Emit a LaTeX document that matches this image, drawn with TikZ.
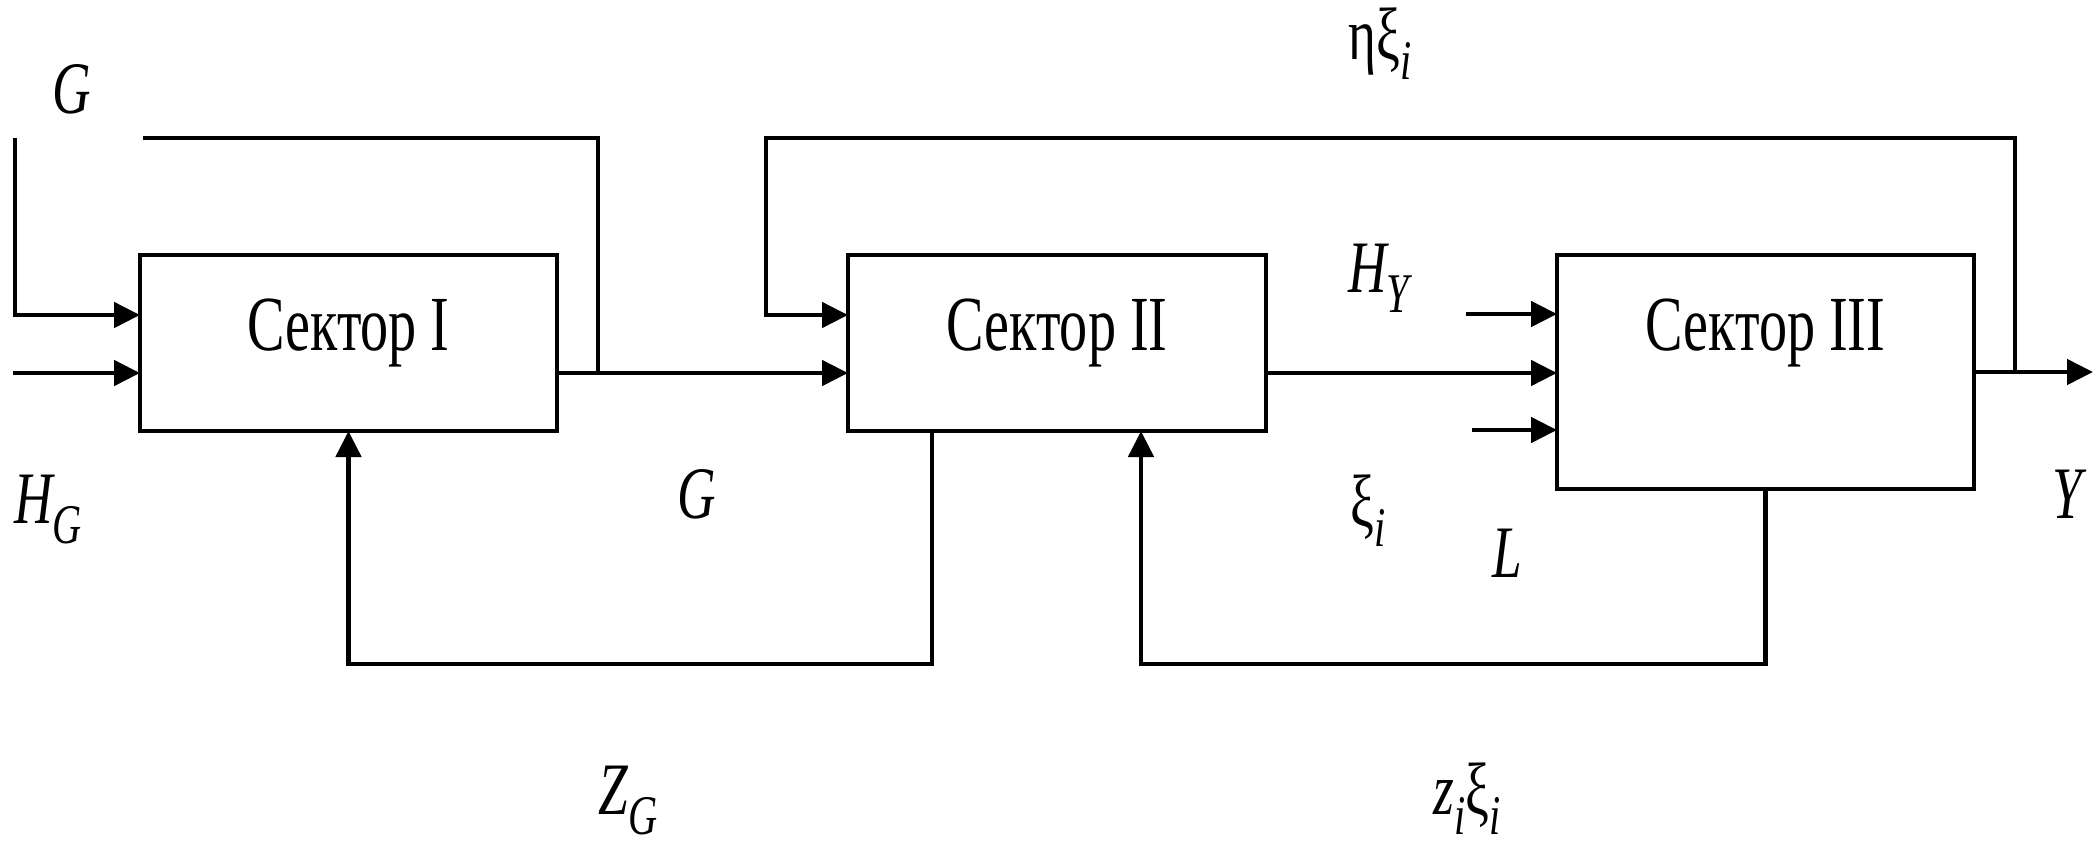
\documentclass[tikz,border=0pt]{standalone}
\usepackage{fontspec}
\usepackage{graphicx}
\setmainfont{Liberation Serif}
\usetikzlibrary{arrows.meta}

% narrow type used throughout the diagram
\newcommand\sq[1]{\scalebox{0.72}[1]{#1}}
% lowered italic subscript for the signal labels
\newcommand\sbs[1]{\raisebox{-10pt}{\fontsize{28}{30}\selectfont\itshape #1}}

\begin{document}
\begin{tikzpicture}[x=0.5pt,y=-0.5pt,
  sector/.style={draw, line width=2.4pt, inner sep=0pt, outer sep=0pt,
                 anchor=north west, minimum width=208.5pt},
  sectortext/.style={font=\fontsize{39}{44}\selectfont, inner sep=0pt, anchor=base},
  lbl/.style={font=\fontsize{37}{40}\selectfont\itshape, inner sep=0pt, anchor=base west},
  wire/.style={line width=2.4pt},
  flow/.style={wire, -{Triangle[length=13pt,width=12.5pt]}}]

\useasboundingbox (0,0) rectangle (2093,842);

% the three sector blocks
\node[sector, minimum height=88pt]  (s1) at (140,255) {};
\node[sector, minimum height=88pt, minimum width=209pt] (s2) at (848,255) {};
\node[sector, minimum height=117pt] (s3) at (1557,255) {};

\node[sectortext] (s1t) at ([yshift=-47.5pt]s1.north) {\sq{Сектор I}};
\node[sectortext] (s2t) at ([yshift=-47.5pt]s2.north) {\sq{Сектор II}};
\node[sectortext] (s3t) at ([yshift=-47.5pt]s3.north) {\sq{Сектор III}};

% free ends and corners of the connectors
\coordinate (gtop)  at (15,138);
\coordinate (hgin)  at (13,373);
\coordinate (j1)    at (598,373);
\coordinate (gfree) at (143,138);
\coordinate (j3)    at (2015,372);
\coordinate (c2)    at (766,138);
\coordinate (hyin)  at (1466,314);
\coordinate (lin)   at (1472,430);
\coordinate (yout)  at (2093,372);
\coordinate (fb1)   at (348.5,664);
\coordinate (fb2)   at (1141,664);

% inputs of sector I
\draw[flow] (gtop) |- ([yshift=14pt]s1.west);
\draw[flow] (hgin) -- (hgin -| s1.west);

% sector I -> sector II, with the branch back to the top
\draw[flow] ([yshift=-15pt]s1.east) -- ([yshift=-15pt]s2.west);
\draw[wire] (j1) |- (gfree);

% sector II -> sector III and the external inputs of sector III
\draw[flow] ([yshift=-15pt]s2.east) -- ([yshift=-15pt]s2.east -| s3.west);
\draw[flow] (hyin) -- (hyin -| s3.west);
\draw[flow] (lin) -- (lin -| s3.west);

% output of sector III and the loop back into sector II
\draw[flow] (s3.east) -- (yout);
\draw[flow] (j3) |- (c2) |- ([yshift=14pt]s2.west);

% lower feedback loops
\draw[flow] ([xshift=-62.5pt]s2.south) |- (fb1) -- (s1.south);
\draw[flow] (s3.south) |- (fb2) -- (fb2 |- s2.south);

% signal labels
\node[lbl] (lg1)  at (52,113)   {\sq{G}};
\node[lbl] (lhg)  at (14,523)   {\sq{H\sbs{G}}};
\node[lbl] (lg2)  at (677,518)  {\sq{G}};
\node[lbl] (lzg)  at (598,814)  {\sq{Z\sbs{G}}};
\node[lbl] (leta) at (1348,59)  {\sq{\upshape ηξ\sbs{i}}};
\node[lbl] (lhy)  at (1348,292) {\sq{H\sbs{Y}}};
\node[lbl] (lxi)  at (1350,526) {\sq{\upshape ξ\sbs{i}}};
\node[lbl] (ll)   at (1492,577) {\sq{L}};
\node[lbl] (ly)   at (2052,518) {\sq{Y}};
\node[lbl] (lzx)  at (1433,814) {\sq{z\sbs{i}\upshape ξ\sbs{i}}};
\end{tikzpicture}
\end{document}
